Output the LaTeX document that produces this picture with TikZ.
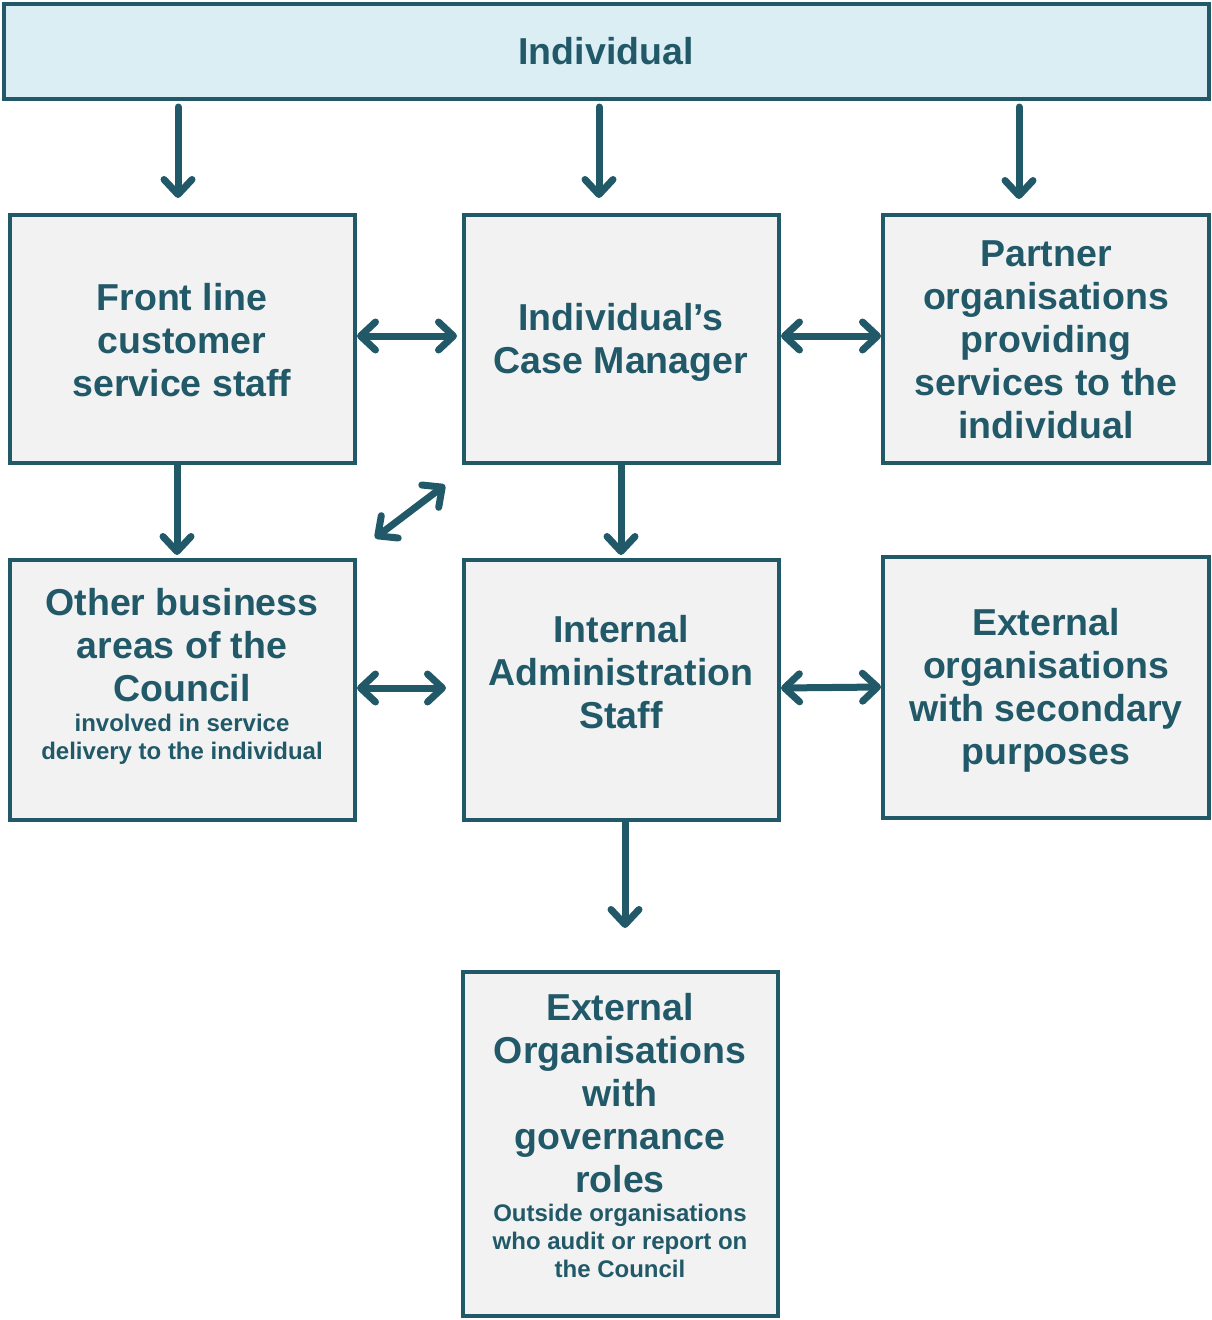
\documentclass[tikz,border=0pt]{standalone}
\usepackage{fontspec}
\setmainfont{Liberation Sans}
\usetikzlibrary{arrows.meta}
\definecolor{dteal}{HTML}{215968}
\definecolor{boxgray}{HTML}{F2F2F2}
\definecolor{lblue}{HTML}{DBEEF4}
\begin{document}
\begin{tikzpicture}[x=1pt,y=-1pt,
  box/.style={draw=dteal, line width=4pt, fill=boxgray, inner sep=0pt},
  big/.style={text=dteal, font=\bfseries\fontsize{37.5}{43}\selectfont, align=center, inner sep=0pt},
  small/.style={text=dteal, font=\bfseries\fontsize{24}{28}\selectfont, align=center, inner sep=0pt},
  tipb/.tip={Straight Barb[length=15pt,width=28pt,line cap=round,line join=round]},
  arr/.style={draw=dteal, line width=7pt, line cap=round, -tipb},
  dbl/.style={draw=dteal, line width=7pt, line cap=round, tipb-tipb}]
\useasboundingbox (0,0) rectangle (1212,1320);
% boxes
\node[box, fill=lblue, minimum width=1205pt, minimum height=95pt] (ind) at (606.5,51) {};
\node[box, minimum width=345pt, minimum height=248pt] (fl) at (182.5,339) {};
\node[box, minimum width=315pt, minimum height=248pt] (cm) at (621.5,339) {};
\node[box, minimum width=326pt, minimum height=248pt] (po) at (1046,339) {};
\node[box, minimum width=345pt, minimum height=260pt] (ob) at (182.5,690) {};
\node[box, minimum width=315pt, minimum height=260pt] (ia) at (621.5,690) {};
\node[box, minimum width=326pt, minimum height=261pt] (es) at (1046,687.5) {};
\node[box, minimum width=315pt, minimum height=344pt] (eg) at (620.5,1144) {};
% texts
\node[big] (indt) at (606,51) {Individual};
\node[big] (flt) at (182,340) {Front line\\customer\\service staff};
\node[big] (cmt) at (621,342) {Individual’s\\Case Manager};
\node[big] (pot) at (1046,340) {Partner\\organisations\\providing\\services to the\\individual};
\node[big] (obt) at (182,645) {Other business\\areas of the\\Council};
\node[small] (obs) at (182,739) {involved in service\\delivery to the individual};
\node[big] (iat) at (621,672) {Internal\\Administration\\Staff};
\node[big] (est) at (1046,690) {External\\organisations\\with secondary\\purposes};
\node[big] (egt) at (620,1093) {External\\Organisations\\with\\governance\\roles};
\node[small] (egs) at (620,1241) {Outside organisations\\who audit or report on\\the Council};
% connectors
\draw[arr, shorten <=6.5pt, shorten >=15pt] ([xshift=-428.5pt]ind.south) -- ([xshift=-4.5pt]fl.north);
\draw[arr, shorten <=6.5pt, shorten >=15pt] ([xshift=-7.5pt]ind.south) -- ([xshift=-22.5pt]cm.north);
\draw[arr, shorten <=6.5pt, shorten >=14pt] ([xshift=412.5pt]ind.south) -- ([xshift=-27pt]po.north);
\draw[dbl, shorten >=5pt] ([yshift=3pt]fl.east) -- ([yshift=3pt]cm.west);
\draw[dbl] ([yshift=3pt]cm.east) -- ([yshift=3pt]po.west);
\draw[arr, shorten >=3pt] ([xshift=-5.5pt]fl.south) -- ([xshift=-5.5pt]ob.north);
\draw[arr, shorten >=3pt] ([xshift=-0.5pt]cm.south) -- ([xshift=-0.5pt]ia.north);
\coordinate (d1) at (375,538);
\coordinate (d2) at (445,485);
\draw[dbl] (d1) -- (d2);
\draw[dbl, shorten >=16pt] ([yshift=2pt]ob.east) -- ([yshift=2pt]ia.west);
\draw[dbl] ([yshift=2pt]ia.east) -- ([yshift=0.5pt]es.west);
\draw[arr, shorten >=42pt] ([xshift=3.5pt]ia.south) -- ([xshift=4.5pt]eg.north);
\end{tikzpicture}
\end{document}
